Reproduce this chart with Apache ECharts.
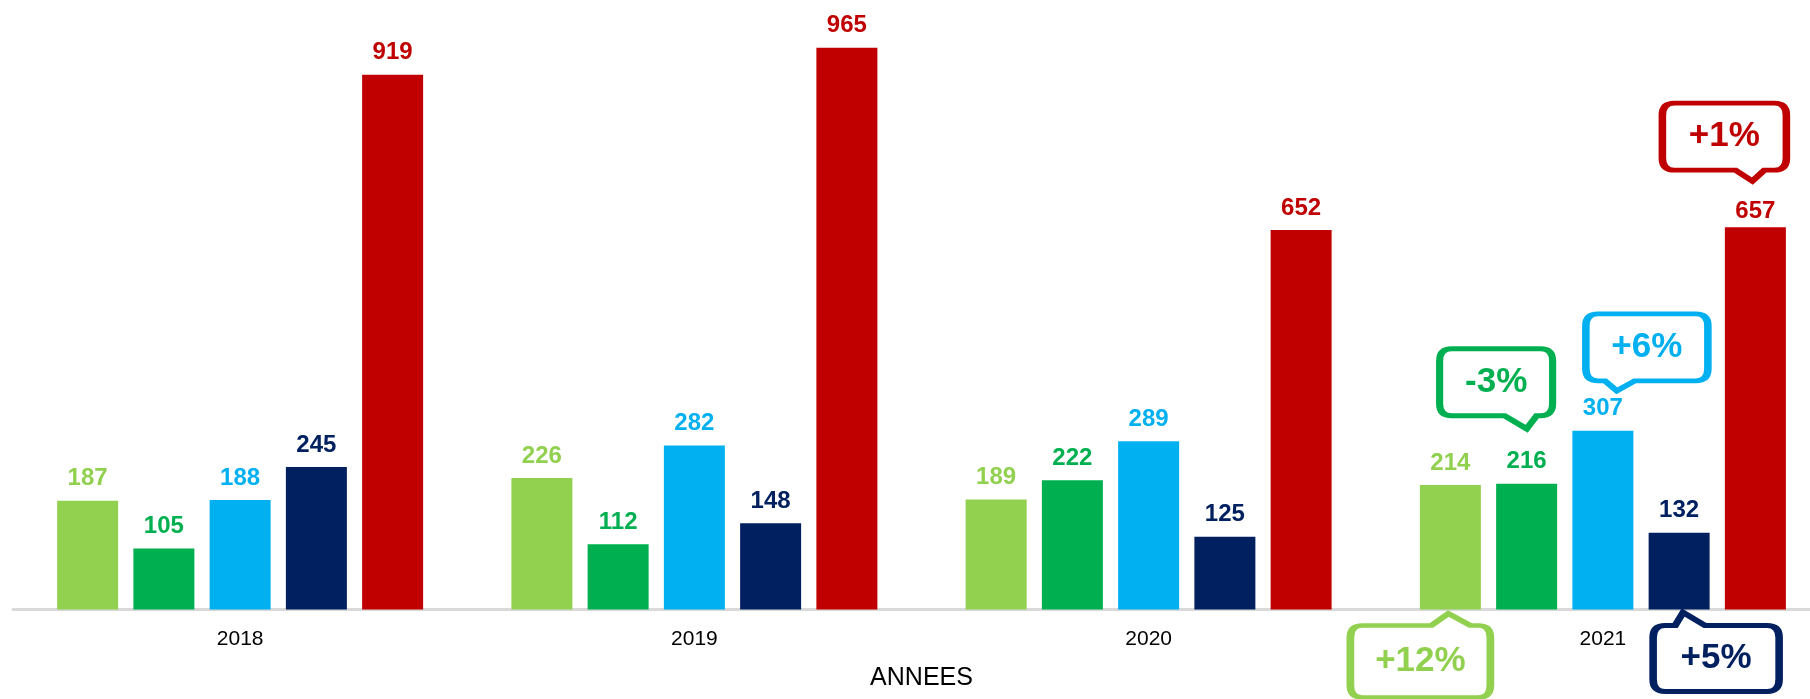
<!DOCTYPE html>
<html lang="fr">
<head>
    <meta charset="UTF-8" />
    <title>Evolution par année</title>
    <style>
        html, body { margin: 0; padding: 0; background: #fff; overflow: hidden; }
        #chart { width: 1810px; height: 699px; }
    </style>
</head>
<body>
    <div id="chart"></div>
    <script src="https://cdn.jsdelivr.net/npm/echarts@6/dist/echarts.min.js"></script>
    <script>
        // données
        const annees = ['2018', '2019', '2020', '2021']
        const serie1 = [187, 226, 189, 214]
        const serie2 = [105, 112, 222, 216]
        const serie3 = [188, 282, 289, 307]
        const serie4 = [245, 148, 125, 132]
        const serie5 = [919, 965, 652, 657]
        const variations = ['+12%', '-3%', '+6%', '+5%', '+1%']

        const valeurs = [serie1, serie2, serie3, serie4, serie5]
        const couleurs = ['#92D050', '#00B050', '#00B0F0', '#002060', '#C00000']
        const police = "'Liberation Sans', Arial, sans-serif"

        // bulles de variation sur 2021 (dimensions extérieures, pointe, décalage / barre)
        const bulles = [
            { haut: false, w: 146, h: 78, p: 12, tip: 101, bl: 17, br: 22, dx: -2, d: 4 },
            { haut: true, w: 119, h: 73, p: 13, tip: 90, bl: 22, br: 10, dx: 0, d: 55 },
            { haut: true, w: 128, h: 73, p: 10, tip: 34, bl: 12, br: 18, dx: 14, d: 40 },
            { haut: false, w: 132, h: 72, p: 13, tip: 33, bl: 8, br: 22, dx: 4, d: 3 },
            { haut: true, w: 130, h: 73, p: 11, tip: 93, bl: 17, br: 12, dx: -3, d: 46 }
        ]
        const bord = 6

        function bullePath (b) {
            const w = b.w - bord, h = b.h - bord, p = b.p, r = 12
            const t = b.tip - bord / 2
            let d
            if (b.haut) {
                d = ['M', r, 0, 'L', w - r, 0, 'Q', w, 0, w, r, 'L', w, h - r, 'Q', w, h, w - r, h,
                    'L', t + b.br, h, 'L', t, h + p, 'L', t - b.bl, h, 'L', r, h,
                    'Q', 0, h, 0, h - r, 'L', 0, r, 'Q', 0, 0, r, 0, 'Z']
            } else {
                d = ['M', r, p, 'L', t - b.bl, p, 'L', t, 0, 'L', t + b.br, p, 'L', w - r, p,
                    'Q', w, p, w, p + r, 'L', w, p + h - r, 'Q', w, p + h, w - r, p + h,
                    'L', r, p + h, 'Q', 0, p + h, 0, p + h - r, 'L', 0, p + r, 'Q', 0, p, r, p, 'Z']
            }
            return 'path://' + d.join(' ')
        }

        function markBulle (i) {
            const b = bulles[i]
            const w = b.w - bord, h = b.h - bord
            const ox = b.dx - (b.tip - bord / 2) + w / 2
            const oy = b.haut ? -b.d - (h + b.p) / 2 : b.d + (h + b.p) / 2
            return {
                symbol: bullePath(b),
                symbolSize: [w, h + b.p],
                symbolOffset: [ox, oy],
                silent: true,
                animation: false,
                itemStyle: { color: '#fff', borderColor: couleurs[i], borderWidth: bord },
                label: {
                    show: true,
                    position: 'inside',
                    offset: [0, b.haut ? -b.p / 2 : b.p / 2],
                    formatter: variations[i],
                    color: couleurs[i],
                    fontSize: 35,
                    fontWeight: 'bold',
                    fontFamily: police
                },
                data: [{ coord: [annees[3], b.haut ? valeurs[i][3] : 0] }]
            }
        }

        const series = valeurs.map((v, i) => ({
            name: 'S' + (i + 1),
            type: 'bar',
            // l'étiquette 657 est un peu plus près de sa barre
            data: v.map((x, j) => (i === 4 && j === 3) ? { value: x, label: { distance: 4 } } : x),
            barWidth: 61,
            barGap: '25%',
            itemStyle: { color: couleurs[i] },
            label: {
                show: true,
                position: 'top',
                distance: 10,
                color: couleurs[i],
                fontSize: 24,
                fontWeight: 'bold',
                fontFamily: police
            },
            markPoint: markBulle(i)
        }))

        const chart = echarts.init(document.getElementById('chart'))
        chart.setOption({
            animation: false,
            textStyle: { fontFamily: police },
            grid: { left: 13, top: 27.5, width: 1817, height: 582, outerBoundsMode: 'none', containLabel: false },
            xAxis: {
                type: 'category',
                data: annees,
                name: 'ANNEES',
                nameLocation: 'middle',
                nameGap: 56,
                nameTextStyle: { color: '#000', fontSize: 25 },
                axisTick: { show: false },
                axisLine: { lineStyle: { color: '#D9D9D9', width: 3 } },
                axisLabel: { color: '#000', fontSize: 21, margin: 19 }
            },
            yAxis: {
                type: 'value',
                show: false,
                min: 0,
                max: 1000,
                splitLine: { show: false }
            },
            series: series
        })
    </script>
</body>
</html>
